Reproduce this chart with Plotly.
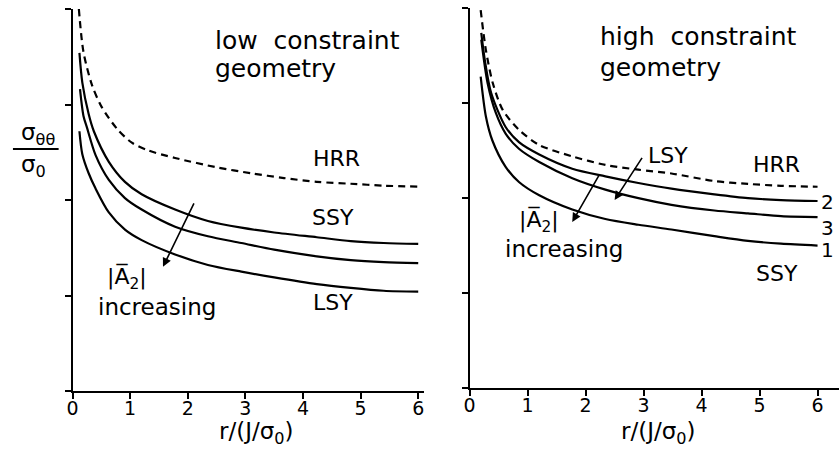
import plotly.graph_objects as go

# ---------------- data ----------------
ticks_x = [0, 1, 2, 3, 4, 5, 6]
tick_labels_x = ["0", "1", "2", "3", "4", "5", "6"]
ticks_y = [0, 1, 2, 3, 4]

# low constraint geometry
hrr_low_x = [0.11, 0.19, 0.34, 0.51, 0.78, 1.03, 1.31, 1.78, 2.52, 3.10, 3.67, 4.24, 4.83, 5.40, 6.0]
hrr_low_y = [4.00, 3.55, 3.20, 2.97, 2.74, 2.60, 2.52, 2.44, 2.34, 2.28, 2.23, 2.19, 2.17, 2.15, 2.14]
low1_x = [0.12, 0.17, 0.28, 0.37, 0.63, 0.91, 1.20, 1.78, 2.35, 2.93, 3.50, 4.24, 4.83, 5.40, 6.0]
low1_y = [3.54, 3.23, 2.90, 2.72, 2.40, 2.19, 2.06, 1.90, 1.78, 1.71, 1.66, 1.61, 1.57, 1.55, 1.54]
low2_x = [0.13, 0.19, 0.25, 0.40, 0.63, 0.91, 1.20, 1.78, 2.35, 2.93, 3.50, 4.24, 4.83, 5.40, 6.0]
low2_y = [3.16, 2.88, 2.76, 2.47, 2.21, 2.02, 1.90, 1.72, 1.62, 1.55, 1.48, 1.41, 1.37, 1.35, 1.34]
low3_x = [0.12, 0.17, 0.28, 0.40, 0.63, 0.91, 1.20, 1.78, 2.35, 2.93, 3.50, 4.24, 4.83, 5.40, 6.0]
low3_y = [2.72, 2.48, 2.28, 2.12, 1.87, 1.69, 1.58, 1.43, 1.32, 1.25, 1.19, 1.12, 1.08, 1.05, 1.04]

# high constraint geometry
hrr_high_x = [0.19, 0.28, 0.40, 0.57, 0.85, 1.20, 1.77, 2.34, 2.91, 3.48, 4.22, 4.80, 5.37, 6.0]
hrr_high_y = [3.98, 3.56, 3.21, 2.93, 2.72, 2.56, 2.44, 2.35, 2.30, 2.26, 2.18, 2.15, 2.13, 2.12]
high2_x = [0.20, 0.26, 0.37, 0.62, 0.85, 1.20, 1.77, 2.34, 2.91, 3.48, 4.22, 4.80, 5.37, 6.0]
high2_y = [3.74, 3.46, 3.11, 2.75, 2.59, 2.46, 2.31, 2.23, 2.16, 2.10, 2.04, 2.00, 1.98, 1.97]
high3_x = [0.20, 0.31, 0.45, 0.62, 0.85, 1.20, 1.77, 2.34, 2.91, 3.48, 4.22, 4.80, 5.37, 6.0]
high3_y = [3.67, 3.21, 2.90, 2.68, 2.52, 2.38, 2.21, 2.09, 2.00, 1.93, 1.87, 1.84, 1.81, 1.80]
high1_x = [0.19, 0.28, 0.39, 0.62, 0.85, 1.20, 1.77, 2.34, 2.91, 3.48, 4.22, 4.80, 5.37, 6.0]
high1_y = [3.28, 2.86, 2.61, 2.33, 2.17, 2.03, 1.88, 1.78, 1.72, 1.67, 1.60, 1.55, 1.52, 1.50]

FONT = "DejaVu Sans"
INK = "black"

fig = go.Figure()


def add_curve(x, y, xa, ya, dashed=False):
    fig.add_trace(go.Scatter(
        x=x, y=y, xaxis=xa, yaxis=ya, mode="lines",
        line=dict(color=INK, width=2.2, shape="spline", smoothing=0.8,
                  dash="7px,5px" if dashed else "solid"),
        hoverinfo="skip", showlegend=False))


add_curve(hrr_low_x, hrr_low_y, "x", "y", dashed=True)
add_curve(low1_x, low1_y, "x", "y")
add_curve(low2_x, low2_y, "x", "y")
add_curve(low3_x, low3_y, "x", "y")

add_curve(hrr_high_x, hrr_high_y, "x2", "y2", dashed=True)
add_curve(high2_x, high2_y, "x2", "y2")
add_curve(high3_x, high3_y, "x2", "y2")
add_curve(high1_x, high1_y, "x2", "y2")

W, H = 839, 451

xcommon = dict(tickmode="array", tickvals=ticks_x, ticktext=tick_labels_x,
               ticks="outside", ticklen=6, tickwidth=2, tickcolor=INK,
               showline=True, linecolor=INK, linewidth=2, showgrid=False,
               zeroline=False, ticklabelstandoff=-7,
               tickfont=dict(family=FONT, size=19, color=INK))
ycommon = dict(tickmode="array", tickvals=ticks_y, showticklabels=False,
               ticks="outside", ticklen=6, tickwidth=2, tickcolor=INK,
               showline=True, linecolor=INK, linewidth=2, showgrid=False,
               zeroline=False)

fig.update_layout(
    width=W, height=H, margin=dict(l=0, r=0, t=0, b=0),
    paper_bgcolor="white", plot_bgcolor="white",
    xaxis=dict(domain=[67 / W, 421 / W], range=[0, 6.1], anchor="y", **xcommon),
    yaxis=dict(domain=[(H - 391) / H, (H - 9) / H], range=[0, 4.0], anchor="x", **ycommon),
    xaxis2=dict(domain=[467 / W, 1.0], range=[0, 6.37], anchor="y2", **xcommon),
    yaxis2=dict(domain=[(H - 388) / H, (H - 8.3) / H], range=[0, 4.0], anchor="x2", **ycommon),
)


def txt(x, y, s, xr="x", yr="y", size=22, xanchor="center"):
    fig.add_annotation(x=x, y=y, xref=xr, yref=yr, text=s, showarrow=False,
                       xanchor=xanchor, yanchor="middle",
                       font=dict(family=FONT, size=size, color=INK))


def arrow(x0, y0, x1, y1, xr, yr):
    fig.add_annotation(x=x1, y=y1, ax=x0, ay=y0, xref=xr, yref=yr,
                       axref=xr, ayref=yr, text="", showarrow=True,
                       arrowhead=2, arrowsize=1.1, arrowwidth=1.6, arrowcolor=INK)


# left panel texts
txt(2.44, 3.67, "low  constraint", xanchor="left", size=25)
txt(2.44, 3.38, "geometry", xanchor="left", size=25)
txt(4.58, 2.43, "HRR")
txt(4.52, 1.82, "SSY")
txt(4.52, 0.93, "LSY")
txt(0.94, 1.18, "|A\u0305<sub>2</sub>|")
txt(0.40, 0.88, "increasing", xanchor="left", size=23)
txt(6.26, 1.60, "1", size=20)
txt(6.26, 1.40, "2", size=20)
txt(6.26, 1.00, "3", size=20)
arrow(2.12, 1.98, 1.57, 1.30, "x", "y")

# right panel texts
txt(2.22, 3.70, "high  constraint", xr="x2", yr="y2", xanchor="left", size=25)
txt(2.22, 3.38, "geometry", xr="x2", yr="y2", xanchor="left", size=25)
txt(3.42, 2.45, "LSY", xr="x2", yr="y2")
txt(5.30, 2.35, "HRR", xr="x2", yr="y2")
txt(5.30, 1.21, "SSY", xr="x2", yr="y2")
txt(1.20, 1.76, "|A\u0305<sub>2</sub>|", xr="x2", yr="y2")
txt(0.58, 1.46, "increasing", xr="x2", yr="y2", xanchor="left", size=23)
txt(6.17, 1.96, "2", xr="x2", yr="y2", size=20)
txt(6.17, 1.69, "3", xr="x2", yr="y2", size=20)
txt(6.17, 1.45, "1", xr="x2", yr="y2", size=20)
arrow(2.25, 2.26, 1.77, 1.75, "x2", "y2")
arrow(2.99, 2.44, 2.50, 1.98, "x2", "y2")

# axis titles
txt(252 / W, (H - 433) / H, "r/(J/σ<sub>0</sub>)", xr="paper", yr="paper", size=23)
txt(657 / W, (H - 433) / H, "r/(J/σ<sub>0</sub>)", xr="paper", yr="paper", size=23)

# y-axis label as a fraction
txt(32 / W, (H - 134) / H, "σ<sub>θθ</sub>", xr="paper", yr="paper", size=23)
txt(28 / W, (H - 166) / H, "σ<sub>0</sub>", xr="paper", yr="paper", size=23)
fig.add_shape(type="line", xref="paper", yref="paper",
              x0=7 / W, x1=53 / W, y0=(H - 149) / H, y1=(H - 149) / H,
              line=dict(color=INK, width=2))

fig.write_html("out.html", config={"displayModeBar": False},
               post_script="document.body.style.margin='0';document.body.style.overflow='hidden';")
